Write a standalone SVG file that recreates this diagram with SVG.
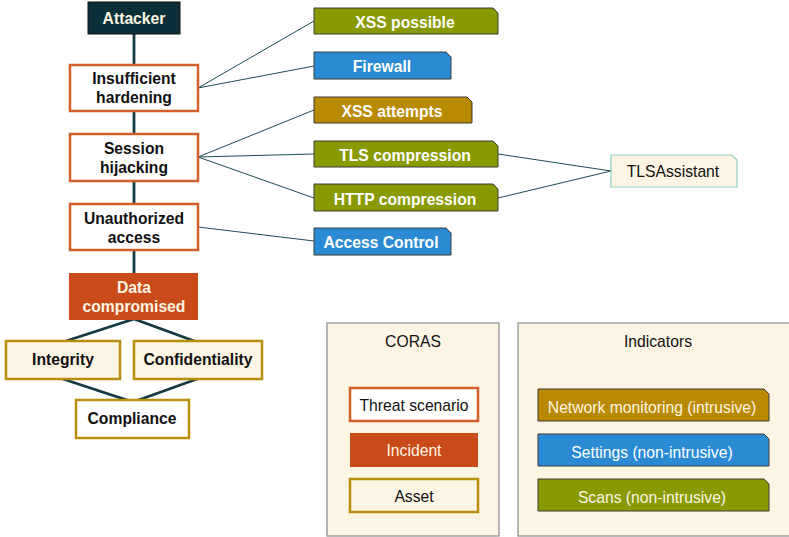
<svg xmlns="http://www.w3.org/2000/svg" width="789" height="537" viewBox="0 0 789 537">
  <style>
    text { font-family: "Liberation Sans", Arial, sans-serif; font-size: 15.7px; text-anchor: middle; }
    .b { font-weight: bold; }
    .threat { fill: #ffffff; stroke: #d2602a; stroke-width: 2.5; }
    .incident { fill: #c84b19; }
    .asset { fill: #fdf5e3; stroke: #b98e0c; stroke-width: 2.5; }
    .asset2 { fill: #ffffff; stroke: #b98e0c; stroke-width: 2.5; }
    .ind { stroke: #3a3a3a; stroke-width: 1; }
    .olive { fill: #889a00; }
    .blue { fill: #2a8bd4; }
    .gold { fill: #b98a00; }
    .legend { fill: #fdf5e3; stroke: #8a8a8a; stroke-width: 1.2; }
    .thick { stroke: #163a44; stroke-width: 2.8; fill: none; }
    .thin { stroke: #1f4a57; stroke-width: 1; fill: none; }
    .w { fill: #ffffff; }
    .c { fill: #fdf5e3; }
    .k { fill: #111111; }
  </style>

  <!-- connectors -->
  <g id="connectors">
    <line class="thick" x1="134" y1="34" x2="134" y2="273"/>
    <polyline class="thick" points="63,342 134,319 197,342"/>
    <polyline class="thick" points="63,379 133,402 197,379"/>
    <line class="thin" x1="198" y1="88" x2="314" y2="21"/>
    <line class="thin" x1="198" y1="88" x2="314" y2="66"/>
    <line class="thin" x1="198" y1="157" x2="314" y2="110"/>
    <line class="thin" x1="198" y1="157" x2="314" y2="154"/>
    <line class="thin" x1="198" y1="157" x2="314" y2="198"/>
    <line class="thin" x1="198" y1="227" x2="314" y2="241"/>
    <line class="thin" x1="498" y1="154" x2="611" y2="171"/>
    <line class="thin" x1="498" y1="198" x2="611" y2="171"/>
  </g>

  <!-- threat path -->
  <g id="attacker">
    <rect x="88" y="2" width="92" height="32" fill="#0b2f38" stroke="#111" stroke-width="1"/>
    <text class="b c" x="134" y="24">Attacker</text>
  </g>
  <g id="insufficient-hardening">
    <rect class="threat" x="70" y="65" width="128" height="46"/>
    <text class="b k" x="134" y="84">Insufficient</text>
    <text class="b k" x="134" y="103">hardening</text>
  </g>
  <g id="session-hijacking">
    <rect class="threat" x="70" y="134" width="128" height="47"/>
    <text class="b k" x="134" y="154">Session</text>
    <text class="b k" x="134" y="173">hijacking</text>
  </g>
  <g id="unauthorized-access">
    <rect class="threat" x="70" y="204" width="128" height="46"/>
    <text class="b k" x="134" y="224">Unauthorized</text>
    <text class="b k" x="134" y="243">access</text>
  </g>
  <g id="data-compromised">
    <rect class="incident" x="69" y="273" width="129" height="47"/>
    <text class="b c" x="134" y="293">Data</text>
    <text class="b c" x="134" y="312">compromised</text>
  </g>
  <g id="integrity">
    <rect class="asset" x="6" y="341" width="114" height="38"/>
    <text class="b k" x="63" y="365">Integrity</text>
  </g>
  <g id="confidentiality">
    <rect class="asset" x="134" y="341" width="128" height="38"/>
    <text class="b k" x="198" y="365">Confidentiality</text>
  </g>
  <g id="compliance">
    <rect class="asset2" x="76" y="400" width="113" height="38"/>
    <text class="b k" x="132" y="424">Compliance</text>
  </g>

  <!-- indicators -->
  <g id="xss-possible">
    <path class="ind olive" d="M314,8 H493 L498,13 V34 H314 Z"/>
    <text class="b w" x="405" y="28">XSS possible</text>
  </g>
  <g id="firewall">
    <path class="ind blue" d="M314,52 H446 L451,57 V79 H314 Z"/>
    <text class="b w" x="382" y="72">Firewall</text>
  </g>
  <g id="xss-attempts">
    <path class="ind gold" d="M314,97 H467 L472,102 V123 H314 Z"/>
    <text class="b w" x="392" y="117">XSS attempts</text>
  </g>
  <g id="tls-compression">
    <path class="ind olive" d="M314,141 H493 L498,146 V167 H314 Z"/>
    <text class="b w" x="405" y="161">TLS compression</text>
  </g>
  <g id="http-compression">
    <path class="ind olive" d="M314,184 H493 L498,189 V211 H314 Z"/>
    <text class="b w" x="405" y="205">HTTP compression</text>
  </g>
  <g id="access-control">
    <path class="ind blue" d="M314,228 H446 L451,233 V255 H314 Z"/>
    <text class="b w" x="381" y="248">Access Control</text>
  </g>
  <g id="tlsassistant">
    <path d="M611,155 H732 L737,160 V187 H611 Z" fill="#fdf5e3" stroke="#8fcfc0" stroke-width="1.2"/>
    <text class="k" x="673" y="177">TLSAssistant</text>
  </g>

  <!-- legend: CORAS -->
  <g id="legend-coras">
    <rect class="legend" x="327" y="323" width="172" height="213"/>
    <text class="k" x="413" y="347">CORAS</text>
    <rect class="threat" x="350" y="388" width="128" height="33"/>
    <text class="k" x="414" y="411">Threat scenario</text>
    <rect class="incident" x="350" y="433" width="128" height="34"/>
    <text class="c" x="414" y="456">Incident</text>
    <rect class="asset" x="350" y="479" width="128" height="33"/>
    <text class="k" x="414" y="502">Asset</text>
  </g>

  <!-- legend: Indicators -->
  <g id="legend-indicators">
    <rect class="legend" x="518" y="323" width="275" height="213"/>
    <text class="k" x="658" y="347">Indicators</text>
    <path class="ind gold" d="M538,389 H764 L769,394 V421 H538 Z"/>
    <text class="c" x="652" y="413">Network monitoring (intrusive)</text>
    <path class="ind blue" d="M538,434 H764 L769,439 V466 H538 Z"/>
    <text class="w" x="652" y="458">Settings (non-intrusive)</text>
    <path class="ind olive" d="M538,479 H764 L769,484 V511 H538 Z"/>
    <text class="c" x="652" y="503">Scans (non-intrusive)</text>
  </g>
</svg>
